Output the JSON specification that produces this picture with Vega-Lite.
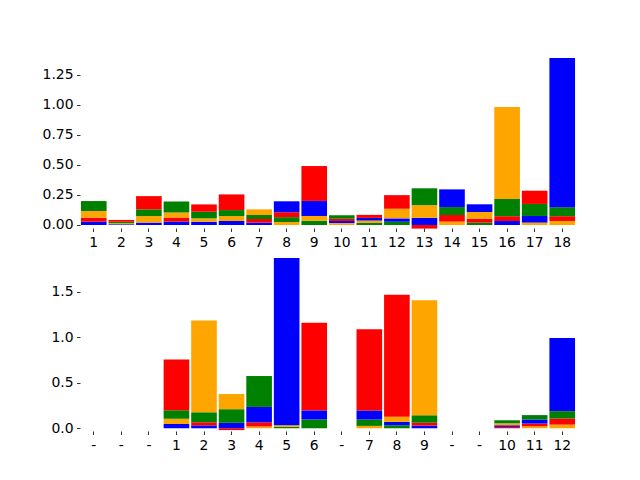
{
  "$schema": "https://vega.github.io/schema/vega-lite/v6.json",
  "padding": {"top": 58, "left": 42, "right": 0, "bottom": 0},
  "spacing": 9,
  "config": {
    "font": "DejaVu Sans",
    "view": {"stroke": null},
    "axis": {
      "domain": false, "grid": false, "tickColor": "#000", "tickSize": 3.5, "tickWidth": 0.8,
      "labelPadding": 3.5, "labelColor": "#000", "labelFont": "DejaVu Sans", "labelFontSize": 13.9, "title": null
    }
  },
  "datasets": {
    "top": [
      {"pos": 1, "base": "C", "value": 0.028}, {"pos": 1, "base": "T", "value": 0.033}, {"pos": 1, "base": "G", "value": 0.055}, {"pos": 1, "base": "A", "value": 0.083},
      {"pos": 2, "base": "G", "value": 0.01}, {"pos": 2, "base": "A", "value": 0.012}, {"pos": 2, "base": "T", "value": 0.015}, {"pos": 2, "base": "C", "value": 0.005},
      {"pos": 3, "base": "C", "value": 0.02}, {"pos": 3, "base": "G", "value": 0.054}, {"pos": 3, "base": "A", "value": 0.056}, {"pos": 3, "base": "T", "value": 0.11},
      {"pos": 4, "base": "C", "value": 0.03}, {"pos": 4, "base": "T", "value": 0.033}, {"pos": 4, "base": "G", "value": 0.041}, {"pos": 4, "base": "A", "value": 0.091},
      {"pos": 5, "base": "C", "value": 0.027}, {"pos": 5, "base": "G", "value": 0.028}, {"pos": 5, "base": "A", "value": 0.055}, {"pos": 5, "base": "T", "value": 0.061},
      {"pos": 6, "base": "C", "value": 0.033}, {"pos": 6, "base": "G", "value": 0.041}, {"pos": 6, "base": "A", "value": 0.05}, {"pos": 6, "base": "T", "value": 0.13},
      {"pos": 7, "base": "C", "value": 0.02}, {"pos": 7, "base": "T", "value": 0.03}, {"pos": 7, "base": "A", "value": 0.033}, {"pos": 7, "base": "G", "value": 0.047},
      {"pos": 8, "base": "G", "value": 0.025}, {"pos": 8, "base": "A", "value": 0.04}, {"pos": 8, "base": "T", "value": 0.041}, {"pos": 8, "base": "C", "value": 0.091},
      {"pos": 9, "base": "A", "value": 0.035}, {"pos": 9, "base": "G", "value": 0.04}, {"pos": 9, "base": "C", "value": 0.125}, {"pos": 9, "base": "T", "value": 0.29},
      {"pos": 10, "base": "C", "value": 0.018}, {"pos": 10, "base": "T", "value": 0.019}, {"pos": 10, "base": "G", "value": 0.015}, {"pos": 10, "base": "A", "value": 0.028},
      {"pos": 11, "base": "A", "value": 0.017}, {"pos": 11, "base": "G", "value": 0.02}, {"pos": 11, "base": "C", "value": 0.022}, {"pos": 11, "base": "T", "value": 0.025},
      {"pos": 12, "base": "A", "value": 0.027}, {"pos": 12, "base": "C", "value": 0.028}, {"pos": 12, "base": "G", "value": 0.08}, {"pos": 12, "base": "T", "value": 0.113},
      {"pos": 13, "base": "T", "value": -0.03}, {"pos": 13, "base": "C", "value": 0.06}, {"pos": 13, "base": "G", "value": 0.105}, {"pos": 13, "base": "A", "value": 0.14},
      {"pos": 14, "base": "G", "value": 0.028}, {"pos": 14, "base": "T", "value": 0.055}, {"pos": 14, "base": "A", "value": 0.066}, {"pos": 14, "base": "C", "value": 0.147},
      {"pos": 15, "base": "A", "value": 0.02}, {"pos": 15, "base": "T", "value": 0.033}, {"pos": 15, "base": "G", "value": 0.055}, {"pos": 15, "base": "C", "value": 0.064},
      {"pos": 16, "base": "C", "value": 0.033}, {"pos": 16, "base": "T", "value": 0.04}, {"pos": 16, "base": "A", "value": 0.144}, {"pos": 16, "base": "G", "value": 0.763},
      {"pos": 17, "base": "G", "value": 0.02}, {"pos": 17, "base": "C", "value": 0.055}, {"pos": 17, "base": "A", "value": 0.1}, {"pos": 17, "base": "T", "value": 0.11},
      {"pos": 18, "base": "G", "value": 0.033}, {"pos": 18, "base": "T", "value": 0.04}, {"pos": 18, "base": "A", "value": 0.075}, {"pos": 18, "base": "C", "value": 1.24}
    ],
    "bottom": [
      {"pos": 4, "base": "C", "value": 0.048}, {"pos": 4, "base": "G", "value": 0.056}, {"pos": 4, "base": "A", "value": 0.093}, {"pos": 4, "base": "T", "value": 0.56},
      {"pos": 5, "base": "C", "value": 0.032}, {"pos": 5, "base": "T", "value": 0.034}, {"pos": 5, "base": "A", "value": 0.11}, {"pos": 5, "base": "G", "value": 1.01},
      {"pos": 6, "base": "T", "value": -0.02}, {"pos": 6, "base": "C", "value": 0.06}, {"pos": 6, "base": "A", "value": 0.15}, {"pos": 6, "base": "G", "value": 0.167},
      {"pos": 7, "base": "G", "value": 0.02}, {"pos": 7, "base": "T", "value": 0.045}, {"pos": 7, "base": "C", "value": 0.17}, {"pos": 7, "base": "A", "value": 0.34},
      {"pos": 8, "base": "A", "value": 0.015}, {"pos": 8, "base": "G", "value": 0.018}, {"pos": 8, "base": "C", "value": 1.84},
      {"pos": 9, "base": "A", "value": 0.097}, {"pos": 9, "base": "C", "value": 0.1}, {"pos": 9, "base": "T", "value": 0.965},
      {"pos": 11, "base": "G", "value": 0.026}, {"pos": 11, "base": "A", "value": 0.07}, {"pos": 11, "base": "C", "value": 0.1}, {"pos": 11, "base": "T", "value": 0.894},
      {"pos": 12, "base": "A", "value": 0.033}, {"pos": 12, "base": "C", "value": 0.037}, {"pos": 12, "base": "G", "value": 0.056}, {"pos": 12, "base": "T", "value": 1.344},
      {"pos": 13, "base": "C", "value": 0.03}, {"pos": 13, "base": "T", "value": 0.031}, {"pos": 13, "base": "A", "value": 0.082}, {"pos": 13, "base": "G", "value": 1.266},
      {"pos": 16, "base": "T", "value": 0.015}, {"pos": 16, "base": "C", "value": 0.018}, {"pos": 16, "base": "G", "value": 0.022}, {"pos": 16, "base": "A", "value": 0.033},
      {"pos": 17, "base": "G", "value": 0.022}, {"pos": 17, "base": "T", "value": 0.03}, {"pos": 17, "base": "C", "value": 0.045}, {"pos": 17, "base": "A", "value": 0.048},
      {"pos": 18, "base": "G", "value": 0.04}, {"pos": 18, "base": "T", "value": 0.067}, {"pos": 18, "base": "A", "value": 0.082}, {"pos": 18, "base": "C", "value": 0.805}
    ]
  },
  "vconcat": [
    {
      "width": 496, "height": 170,
      "data": {"name": "top"},
      "mark": {"type": "bar"},
      "encoding": {
        "x": {"field": "pos", "type": "ordinal",
              "scale": {"domain": [1,2,3,4,5,6,7,8,9,10,11,12,13,14,15,16,17,18], "paddingInner": 0.07, "paddingOuter": 0.035},
              "axis": {"labelAngle": 0}},
        "y": {"field": "value", "type": "quantitative", "stack": "zero",
              "scale": {"domain": [-0.025, 1.388], "nice": false, "zero": false},
              "axis": {"values": [0, 0.25, 0.5, 0.75, 1, 1.25], "format": ".2f"}},
        "color": {"field": "base", "type": "nominal",
                  "scale": {"domain": ["A", "C", "G", "T"], "range": ["#008000", "#0000ff", "#ffa500", "#ff0000"]},
                  "legend": null},
        "order": {"field": "value", "type": "quantitative", "sort": "ascending"}
      }
    },
    {
      "width": 496, "height": 172,
      "data": {"name": "bottom"},
      "mark": {"type": "bar"},
      "encoding": {
        "x": {"field": "pos", "type": "ordinal",
              "scale": {"domain": [1,2,3,4,5,6,7,8,9,10,11,12,13,14,15,16,17,18], "paddingInner": 0.07, "paddingOuter": 0.035},
              "axis": {"labelAngle": 0, "labelExpr": "['-','-','-','1','2','3','4','5','6','-','7','8','9','-','-','10','11','12'][datum.value - 1]"}},
        "y": {"field": "value", "type": "quantitative", "stack": "zero",
              "scale": {"domain": [-0.03, 1.863], "nice": false, "zero": false},
              "axis": {"values": [0, 0.5, 1, 1.5], "format": ".1f"}},
        "color": {"field": "base", "type": "nominal",
                  "scale": {"domain": ["A", "C", "G", "T"], "range": ["#008000", "#0000ff", "#ffa500", "#ff0000"]},
                  "legend": null},
        "order": {"field": "value", "type": "quantitative", "sort": "ascending"}
      }
    }
  ]
}
